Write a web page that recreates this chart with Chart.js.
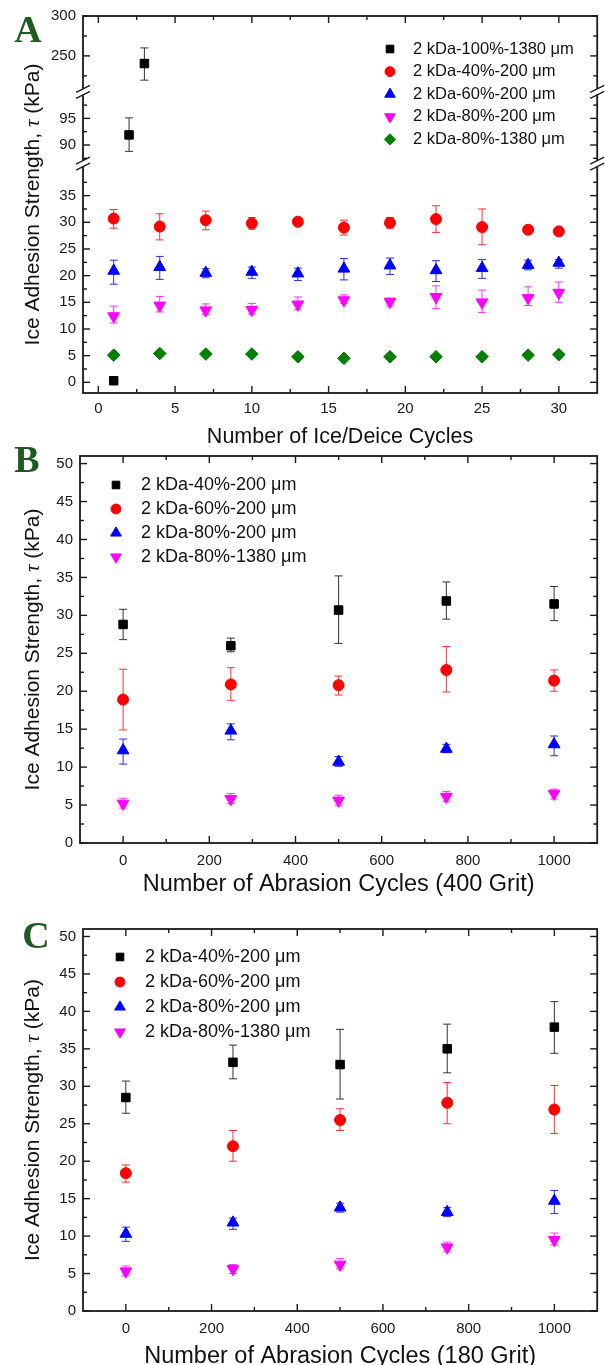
<!DOCTYPE html>
<html>
<head>
<meta charset="utf-8">
<script src="https://cdn.jsdelivr.net/npm/chart.js@4.4.1/dist/chart.umd.min.js"></script>
<style>
  body { margin: 0; background: #fff; width: 605px; height: 1365px; overflow: hidden; position: relative; }
  canvas { position: absolute; left: 0; }
</style>
</head>
<body>
<canvas id="chartA" width="605" height="448" style="top:0px"></canvas>
<canvas id="chartB" width="605" height="456" style="top:440px"></canvas>
<canvas id="chartC" width="605" height="463" style="top:905px"></canvas>
<script>
// ---------- data ----------
// Panel A: ice/deice cycles
const cyclesA = [1, 4, 7, 10, 13, 16, 19, 22, 25, 28, 30];
const a100x = [1, 2, 3];
const a100 = [0.3, 91.9, 240.4];
const a100Hi = [0.3, 95.1, 260];
const a100Lo = [0.3, 88.8, 219.6];
const a40 = [30.7, 29.2, 30.4, 29.8, 30.1, 29.0, 29.9, 30.6, 29.1, 28.6, 28.3];
const a40Hi = [32.4, 31.6, 32.1, 30.9, 30.4, 30.4, 30.9, 33.1, 32.5, 28.9, 28.6];
const a40Lo = [28.9, 26.7, 28.6, 28.7, 29.8, 27.6, 28.9, 28.1, 25.8, 28.3, 28.0];
const a60 = [20.9, 21.6, 20.5, 20.7, 20.4, 21.3, 21.9, 21.0, 21.4, 22.0, 22.4];
const a60Hi = [22.9, 23.6, 21.3, 21.6, 21.4, 23.2, 23.3, 22.8, 23.0, 22.9, 23.0];
const a60Lo = [18.4, 19.3, 19.6, 19.5, 19.1, 19.2, 20.2, 18.9, 19.5, 21.1, 21.4];
const a80 = [12.4, 14.4, 13.5, 13.6, 14.6, 15.4, 15.1, 16.0, 15.0, 15.8, 16.8];
const a80Hi = [14.3, 16.1, 14.7, 14.8, 16.0, 16.4, 15.8, 18.1, 17.3, 17.9, 18.8];
const a80Lo = [11.1, 13.2, 12.7, 12.8, 13.6, 14.8, 14.3, 13.8, 13.1, 14.4, 15.0];
const a1380 = [5.1, 5.4, 5.3, 5.3, 4.8, 4.5, 4.8, 4.8, 4.8, 5.1, 5.2];

// Panel B: abrasion, 400 grit
const cyclesB = [0, 250, 500, 750, 1000];
const b40 = [28.8, 26.0, 30.7, 31.9, 31.5];
const b40Hi = [30.8, 27.0, 35.2, 34.4, 33.8];
const b40Lo = [26.8, 25.2, 26.3, 29.5, 29.3];
const b60 = [18.9, 20.9, 20.8, 22.8, 21.4];
const b60Hi = [22.9, 23.1, 22.0, 25.9, 22.8];
const b60Lo = [14.9, 18.8, 19.5, 19.9, 20.0];
const b80 = [12.2, 14.8, 10.7, 12.4, 13.0];
const b80Hi = [13.7, 15.7, 11.4, 13.0, 14.1];
const b80Lo = [10.4, 13.6, 10.1, 11.9, 11.5];
const b1380 = [5.2, 5.8, 5.6, 6.1, 6.5];
const b1380Hi = [5.9, 6.5, 6.3, 6.8, 7.1];
const b1380Lo = [4.6, 5.2, 4.9, 5.5, 5.8];

// Panel C: abrasion, 180 grit
const cyclesC = [0, 250, 500, 750, 1000];
const c40 = [28.5, 33.2, 32.9, 35.0, 37.9];
const c40Hi = [30.7, 35.5, 37.6, 38.3, 41.3];
const c40Lo = [26.4, 31.0, 28.3, 31.8, 34.4];
const c60 = [18.4, 22.0, 25.5, 27.8, 26.9];
const c60Hi = [19.5, 24.1, 27.0, 30.5, 30.1];
const c60Lo = [17.2, 20.0, 24.1, 25.0, 23.7];
const c80 = [10.3, 11.8, 13.8, 13.2, 14.7];
const c80Hi = [11.2, 12.4, 14.4, 13.8, 16.1];
const c80Lo = [9.3, 10.9, 13.2, 12.6, 13.0];
const c1380 = [5.3, 5.6, 6.2, 8.5, 9.5];
const c1380Hi = [6.0, 6.2, 7.0, 9.2, 10.4];
const c1380Lo = [4.7, 5.0, 5.6, 7.9, 8.8];

// tick labels
const xTicksA = [0, 5, 10, 15, 20, 25, 30];
const yTicksA = [0, 5, 10, 15, 20, 25, 30, 35];
const yTicksAMid = [90, 95];
const yTicksATop = [250, 300];
const xTicksBC = [0, 200, 400, 600, 800, 1000];
const yTicksBC = [0, 5, 10, 15, 20, 25, 30, 35, 40, 45, 50];

// legend labels
const legendA = ['2 kDa-100%-1380 μm', '2 kDa-40%-200 μm', '2 kDa-60%-200 μm', '2 kDa-80%-200 μm', '2 kDa-80%-1380 μm'];
const legendBC = ['2 kDa-40%-200 μm', '2 kDa-60%-200 μm', '2 kDa-80%-200 μm', '2 kDa-80%-1380 μm'];
const yTitle = ['Ice Adhesion Strength, ', 'τ', ' (kPa)'];

// ---------- marker styles ----------
const sBlack = { color: '#000000', err: '#333333', style: 'rect', r: 6 };
const sRed = { color: '#ff0000', err: '#ff3030', style: 'circle', r: 5.5 };
const sBlue = { color: '#0000ff', err: '#2a2aff', style: 'triangle', r: 6.8 };
const sMag = { color: '#ff00ff', err: '#ff30ff', style: 'triangle', r: 6.8, rot: 180 };
const sGreen = { color: '#008000', err: '#008000', style: 'rectRot', r: 6.3 };

const FONT = '"Liberation Sans", Arial, sans-serif';

function series(xs, ys, hi, lo, st, axis) {
  return {
    data: xs.map((x, i) => ({ x: x, y: ys[i] })),
    errHi: hi || ys, errLo: lo || ys, errColor: st.err,
    yAxisID: axis || 'y',
    pointStyle: st.style, pointRadius: st.r, pointRotation: st.rot || 0,
    backgroundColor: st.color, borderColor: st.color, pointBorderWidth: 1,
    showLine: false
  };
}

// error bars, drawn behind the markers
const errorBars = {
  id: 'errorBars',
  beforeDatasetsDraw(chart) {
    const ctx = chart.ctx;
    ctx.save();
    ctx.lineWidth = 1;
    chart.data.datasets.forEach((ds, i) => {
      const meta = chart.getDatasetMeta(i);
      const ys = meta.vScale;
      ctx.strokeStyle = ds.errColor;
      meta.data.forEach((pt, j) => {
        const top = ys.getPixelForValue(ds.errHi[j]);
        const bot = ys.getPixelForValue(ds.errLo[j]);
        if (Math.abs(bot - top) < 1) return;
        ctx.beginPath();
        ctx.moveTo(pt.x, top); ctx.lineTo(pt.x, bot);
        ctx.moveTo(pt.x - 4, top); ctx.lineTo(pt.x + 4, top);
        ctx.moveTo(pt.x - 4, bot); ctx.lineTo(pt.x + 4, bot);
        ctx.stroke();
      });
    });
    ctx.restore();
  }
};

// box frame with inward major/minor ticks and axis breaks
const frame = {
  id: 'frame',
  afterDraw(chart) {
    const { ctx, chartArea: ca, scales } = chart;
    ctx.save();
    ctx.strokeStyle = '#1a1a1a';
    const seg = (x1, y1, x2, y2) => { ctx.beginPath(); ctx.moveTo(x1, y1); ctx.lineTo(x2, y2); ctx.stroke(); };
    const minors = s => {
      const v = s.ticks.map(t => t.value);
      const step = v[1] - v[0];
      const out = [];
      [v[0] - step].concat(v).forEach(t => { const m = t + step / 2; if (m > s.min && m < s.max) out.push(m); });
      return out;
    };
    ctx.lineWidth = 1.4;
    Object.values(scales).forEach(s => {
      const marks = s.ticks.map(t => [t.value, 7]).concat(minors(s).map(m => [m, 4]));
      marks.forEach(([v, len]) => {
        const p = s.getPixelForValue(v);
        if (s.axis === 'x') { seg(p, ca.bottom, p, ca.bottom - len); seg(p, ca.top, p, ca.top + len); }
        else { seg(ca.left, p, ca.left + len, p); seg(ca.right, p, ca.right - len, p); }
      });
    });
    ctx.lineWidth = 1.8;
    ctx.strokeRect(ca.left, ca.top, ca.width, ca.height);
    const ys = Object.values(scales).filter(s => s.axis === 'y').sort((a, b) => a.top - b.top);
    for (let i = 1; i < ys.length; i++) {
      const yb = ys[i].top;
      [ca.left, ca.right].forEach(x => {
        ctx.fillStyle = '#fff';
        ctx.fillRect(x - 2, yb - 3, 4, 6);
        ctx.lineWidth = 1.3;
        seg(x - 7, yb + 0.5, x + 7, yb - 6.5);
        seg(x - 7, yb + 6.5, x + 7, yb - 0.5);
      });
    }
    ctx.restore();
  }
};

// legend drawn inside the plot
const legendBox = {
  id: 'legendBox',
  afterDraw(chart, args, o) {
    const ctx = chart.ctx;
    ctx.save();
    o.items.forEach((st, i) => {
      const y = o.y + i * o.dy;
      ctx.fillStyle = st.color; ctx.strokeStyle = st.color; ctx.lineWidth = 1;
      Chart.helpers.drawPoint(ctx, { pointStyle: st.style, rotation: st.rot || 0, radius: st.r * 0.9, borderWidth: 1 }, o.x, y);
      ctx.fillStyle = '#111';
      ctx.font = o.size + 'px ' + FONT;
      ctx.textBaseline = 'middle';
      ctx.textAlign = 'left';
      ctx.fillText(o.labels[i], o.tx, y);
    });
    ctx.restore();
  }
};

// panel letter and rotated y title
const decor = {
  id: 'decor',
  afterDraw(chart, args, o) {
    const { ctx, chartArea: ca } = chart;
    ctx.save();
    ctx.fillStyle = '#1e5b1e';
    ctx.font = 'bold 38px "Liberation Serif", serif';
    ctx.textAlign = 'center';
    ctx.textBaseline = 'alphabetic';
    ctx.fillText(o.letter, o.lx, o.ly);
    ctx.translate(o.tx, (ca.top + ca.bottom) / 2);
    ctx.rotate(-Math.PI / 2);
    const fonts = ['21px ' + FONT, 'italic 21px "Liberation Serif", serif', '21px ' + FONT];
    let total = 0;
    yTitle.forEach((t, i) => { ctx.font = fonts[i]; total += ctx.measureText(t).width; });
    let x = -total / 2;
    ctx.fillStyle = '#111';
    ctx.textAlign = 'left';
    ctx.textBaseline = 'middle';
    yTitle.forEach((t, i) => { ctx.font = fonts[i]; ctx.fillText(t, x, 0); x += ctx.measureText(t).width; });
    ctx.restore();
  }
};

function axis(min, max, tickList, extra, pad) {
  return Object.assign({
    type: 'linear', min: min, max: max,
    grid: { display: false, drawTicks: false },
    border: { display: false },
    afterBuildTicks: s => { s.ticks = tickList.map(v => ({ value: v })); },
    ticks: { color: '#1a1a1a', font: { family: FONT, size: 15 }, padding: pad || 7, autoSkip: false, maxRotation: 0, callback: v => String(v) }
  }, extra);
}

function makeChart(id, datasets, scales, padding, legendOpts, decorOpts) {
  return new Chart(document.getElementById(id), {
    type: 'scatter',
    data: { datasets: datasets },
    options: {
      responsive: false, animation: false, devicePixelRatio: 1,
      layout: { padding: padding },
      scales: scales,
      plugins: { legend: { display: false }, tooltip: { enabled: false }, legendBox: legendOpts, decor: decorOpts }
    },
    plugins: [errorBars, frame, legendBox, decor]
  });
}

// ---------- panel A (broken y axis: three stacked scales) ----------
const segAxis = v => v > 150 ? 'yTop' : (v > 60 ? 'yMid' : 'y');
const a100Sets = a100x.map((x, i) => series([x], [a100[i]], [a100Hi[i]], [a100Lo[i]], sBlack, segAxis(a100[i])));
makeChart('chartA',
  a100Sets.concat([
    series(cyclesA, a40, a40Hi, a40Lo, sRed),
    series(cyclesA, a60, a60Hi, a60Lo, sBlue),
    series(cyclesA, a80, a80Hi, a80Lo, sMag),
    series(cyclesA, a1380, null, null, sGreen)
  ]),
  {
    x: axis(-1, 32.5, xTicksA, {
      afterFit: s => { s.height = 55; },
      title: { display: true, text: 'Number of Ice/Deice Cycles', color: '#111', font: { family: FONT, size: 21.5, lineHeight: 1 }, padding: 0 }
    }),
    y: axis(-2, 41, yTicksA, { stack: 'a', stackWeight: 230, weight: 1, afterFit: s => { s.width = 83; } }),
    yMid: axis(86.5, 100, yTicksAMid, { stack: 'a', stackWeight: 72, weight: 2, position: 'left', afterFit: s => { s.width = 83; } }),
    yTop: axis(205, 300, yTicksATop, { stack: 'a', stackWeight: 76, weight: 3, position: 'left', afterFit: s => { s.width = 83; } })
  },
  { top: 14, right: 5, left: 0, bottom: 0 },
  { items: [sBlack, sRed, sBlue, sMag, sGreen], labels: legendA, x: 390, tx: 413, y: 49, dy: 22.6, size: 16.5 },
  { letter: 'A', lx: 28, ly: 42, tx: 33 }
);

// ---------- panel B ----------
makeChart('chartB',
  [
    series(cyclesB, b40, b40Hi, b40Lo, sBlack),
    series(cyclesB, b60, b60Hi, b60Lo, sRed),
    series(cyclesB, b80, b80Hi, b80Lo, sBlue),
    series(cyclesB, b1380, b1380Hi, b1380Lo, sMag)
  ],
  {
    x: axis(-100, 1100, xTicksBC, {
      afterFit: s => { s.height = 53; },
      title: { display: true, text: 'Number of Abrasion Cycles (400 Grit)', color: '#111', font: { family: FONT, size: 23.5, lineHeight: 1 }, padding: 0 }
    }, 9),
    y: axis(0, 51, yTicksBC, { afterFit: s => { s.width = 80; } })
  },
  { top: 15, right: 4, left: 0, bottom: 0 },
  { items: [sBlack, sRed, sBlue, sMag], labels: legendBC, x: 116, tx: 141, y: 45, dy: 24, size: 18 },
  { letter: 'B', lx: 27, ly: 32, tx: 33 }
);

// ---------- panel C ----------
makeChart('chartC',
  [
    series(cyclesC, c40, c40Hi, c40Lo, sBlack),
    series(cyclesC, c60, c60Hi, c60Lo, sRed),
    series(cyclesC, c80, c80Hi, c80Lo, sBlue),
    series(cyclesC, c1380, c1380Hi, c1380Lo, sMag)
  ],
  {
    x: axis(-100, 1100, xTicksBC, {
      afterFit: s => { s.height = 57; },
      title: { display: true, text: 'Number of Abrasion Cycles (180 Grit)', color: '#111', font: { family: FONT, size: 23.5, lineHeight: 1 }, padding: 0 }
    }, 9),
    y: axis(0, 51, yTicksBC, { afterFit: s => { s.width = 83; } })
  },
  { top: 24, right: 5, left: 0, bottom: 0 },
  { items: [sBlack, sRed, sBlue, sMag], labels: legendBC, x: 120, tx: 145, y: 52, dy: 25, size: 18 },
  { letter: 'C', lx: 36, ly: 43, tx: 33 }
);
</script>
</body>
</html>
